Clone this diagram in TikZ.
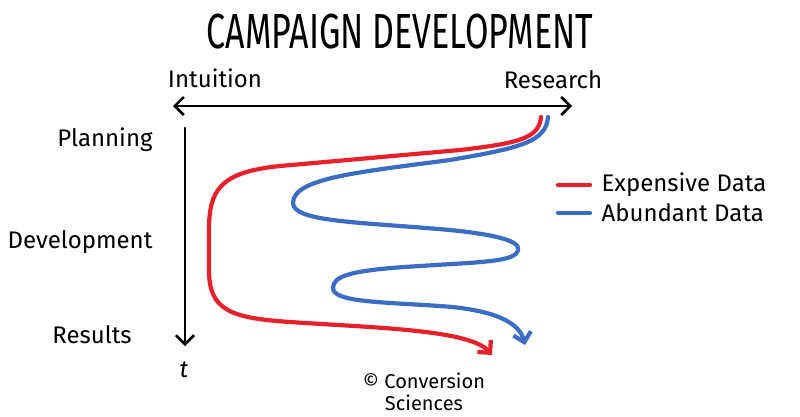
\documentclass[tikz,border=0pt]{standalone}
\usepackage{fontspec}
\setmainfont{Fira Sans}
\usetikzlibrary{arrows.meta}
\definecolor{expred}{HTML}{E8202A}
\definecolor{abublue}{HTML}{3B6CC6}
\tikzset{
  axisline/.style={line width=2.6pt, black},
  expensive/.style={line width=4.2pt, expred},
  abundant/.style={line width=4.2pt, abublue},
  lbl/.style={font=\fontsize{24}{28}\selectfont},
}
\begin{document}
\begin{tikzpicture}[x=1pt, y=-1pt, line join=round, line cap=round, >={Straight Barb[length=9pt,width=18pt]}]
\useasboundingbox (0,0) rectangle (800,416);
\path (173,106) coordinate (L)
      (572,106) coordinate (R)
      (185,128) coordinate (T0)
      (185,346) coordinate (T1);
\draw[axisline,<->] (L) -- (R);
\draw[axisline,->] (T0) -- (T1);
% title and axis labels
\node (title) at (400,32) {\scalebox{1}[1.45]{\fontsize{34}{40}\selectfont CAMPAIGN DEVELOPMENT}};
\foreach \n/\x/\y/\t in {intu/215/78/Intuition, res/553/80/Research, plan/105/140/Planning,
    dev/80/242/Development, resl/92/335/Results, t/184/370/{\itshape t}}
  \node[lbl] (\n) at (\x,\y) {\t};
% red curve
\draw[expensive,->] (541,117) .. controls (539,138) and (520,143) .. (460,150)
  -- (280,166) .. controls (220,172) and (209,190) .. (209,230) -- (209,270)
  .. controls (209,310) and (230,318) .. (290,322)
  .. controls (380,328) and (470,330) .. (492,355);
% blue curve
\draw[abundant,->] (548,117) .. controls (546,142) and (520,148) .. (450,160)
  .. controls (360,172) and (293,178) .. (293,203)
  .. controls (293,222) and (360,222) .. (450,230)
  .. controls (510,236) and (520,244) .. (518,250)
  .. controls (516,262) and (480,262) .. (420,266)
  .. controls (350,270) and (333,276) .. (333,288)
  .. controls (333,302) and (380,302) .. (440,306)
  .. controls (500,310) and (520,325) .. (525,345);
% legend
\node[lbl, anchor=west] (expl) at (598,185) {Expensive Data};
\node[lbl, anchor=west] (abul) at (598,213) {Abundant Data};
\draw[expensive] ([xshift=-40pt]expl.west) -- ([xshift=-8pt]expl.west);
\draw[abundant] ([xshift=-40pt]abul.west) -- ([xshift=-8pt]abul.west);
% credit
\node[font=\fontsize{20}{22}\selectfont, align=center] (credit) at (424,392) {© Conversion\\Sciences};
\end{tikzpicture}
\end{document}
